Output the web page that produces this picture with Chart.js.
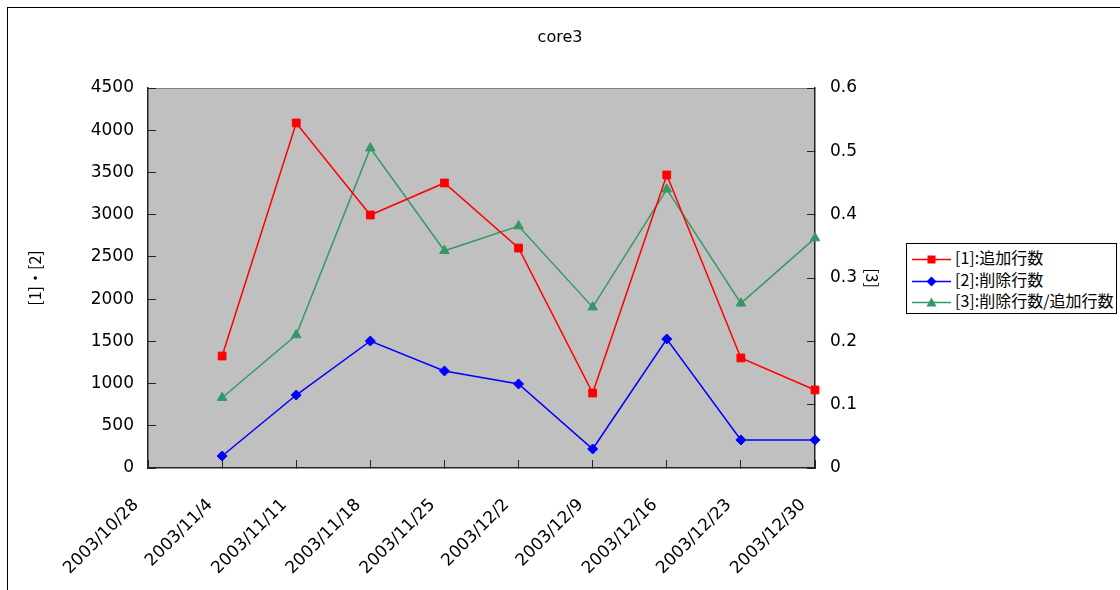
<!DOCTYPE html>
<html>
<head>
<meta charset="utf-8">
<script src="https://cdn.jsdelivr.net/npm/chart.js@4/dist/chart.umd.min.js"></script>
<style>
  body { margin: 0; background: #fff; overflow: hidden; }
  #wrap { position: relative; width: 1120px; height: 590px; }
  #frame { position: absolute; left: 7px; top: 7px; width: 1200px; height: 700px; border: 1px solid #000; }
  canvas { position: absolute; left: 0; top: 0; }
  #legend { position: absolute; left: 906px; top: 243px; width: 209px; height: 66px; border: 1px solid #000;
            background: #fff; padding-top: 3px; box-sizing: content-box; font-family: "Noto Sans CJK JP", sans-serif; font-size: 16px; }
  #legend div { height: 21.5px; line-height: 21.5px; white-space: nowrap; }
  #legend svg { vertical-align: middle; margin-left: 5px; margin-right: 4px; }
</style>
</head>
<body>
<div id="wrap">
  <div id="frame"></div>
  <canvas id="chart" width="1120" height="590"></canvas>
  <div id="legend"></div>
</div>
<script>
var labels = ["2003/10/28", "2003/11/4", "2003/11/11", "2003/11/18", "2003/11/25", "2003/12/2", "2003/12/9", "2003/12/16", "2003/12/23", "2003/12/30"];
var added = [null, 1326, 4086, 2996, 3375, 2605, 888, 3470, 1303, 924];
var deleted = [null, 142, 864, 1504, 1149, 995, 225, 1528, 332, 332];
var ratio = [null, 0.111, 0.21, 0.505, 0.343, 0.382, 0.254, 0.44, 0.26, 0.363];
var names = ["[1]:追加行数", "[2]:削除行数", "[3]:削除行数/追加行数"];

Chart.defaults.color = "#000";
Chart.defaults.font.family = "'DejaVu Sans', sans-serif";

// gray plot area like excel
var plotBg = {
  id: "plotBg",
  beforeDraw: function (chart) {
    var a = chart.chartArea, ctx = chart.ctx;
    ctx.save();
    ctx.fillStyle = "#C0C0C0";
    ctx.fillRect(a.left, a.top, a.right - a.left, a.bottom - a.top);
    ctx.strokeStyle = "#808080";
    ctx.lineWidth = 1;
    ctx.beginPath();
    ctx.moveTo(a.left, a.top + 0.5);
    ctx.lineTo(a.right, a.top + 0.5);
    ctx.stroke();
    ctx.restore();
  }
};

var tickGrid = { drawOnChartArea: false, tickLength: -8, color: "#222", lineWidth: 1 };
var axisBorder = { color: "#222", width: 1.5 };
var titleFont = { family: "'Noto Sans CJK JP', sans-serif", size: 16 };

new Chart(document.getElementById("chart"), {
  type: "line",
  data: {
    labels: labels,
    datasets: [
      {
        label: names[0], data: added, yAxisID: "y",
        borderColor: "#FF0000", backgroundColor: "#FF0000", borderWidth: 1.5,
        pointStyle: "rect", pointRadius: 5.5, pointBorderWidth: 1
      },
      {
        label: names[1], data: deleted, yAxisID: "y",
        borderColor: "#0000FF", backgroundColor: "#0000FF", borderWidth: 1.5,
        pointStyle: "rectRot", pointRadius: 5, pointBorderWidth: 1
      },
      {
        label: names[2], data: ratio, yAxisID: "y2",
        borderColor: "#339966", backgroundColor: "#339966", borderWidth: 1.5,
        pointStyle: "triangle", pointRadius: 5.5, pointBorderWidth: 1
      }
    ]
  },
  options: {
    responsive: false,
    animation: false,
    layout: { padding: 0 },
    plugins: {
      legend: { display: false },
      tooltip: { enabled: false },
      title: {
        display: true, text: "core3",
        font: { size: 16, weight: "normal" },
        padding: { top: 28.4, bottom: 40.4 }
      }
    },
    scales: {
      x: {
        offset: false,
        grid: tickGrid,
        border: axisBorder,
        ticks: { minRotation: 45, maxRotation: 45, autoSkip: false, padding: 35, labelOffset: -12, font: { size: 17 } },
        afterFit: function (s) { s.height = 122; }
      },
      y: {
        position: "left", min: 0, max: 4500,
        grid: tickGrid,
        border: axisBorder,
        ticks: { stepSize: 500, padding: 22, font: { size: 17 },
                 callback: function (v) { return String(v); } },
        title: { display: true, text: "[1]・[2]", font: titleFont, padding: { top: 25.4, bottom: 0 } },
        afterFit: function (s) { s.width = 148; }
      },
      y2: {
        position: "right", min: 0, max: 0.6,
        grid: tickGrid,
        border: axisBorder,
        ticks: { stepSize: 0.1, padding: 23, font: { size: 17 },
                 callback: function (v) { return String(+v.toFixed(1)); } },
        title: { display: true, text: "[3]", font: titleFont, padding: { top: 238.4, bottom: 0 } },
        afterFit: function (s) { s.width = 305; }
      }
    }
  },
  plugins: [plotBg]
});

// excel-like legend: line with marker
var shapes = [
  '<rect x="15.5" y="2.5" width="8" height="8" fill="#FF0000"/>',
  '<polygon points="19.5,1.5 24.5,6.5 19.5,11.5 14.5,6.5" fill="#0000FF"/>',
  '<polygon points="19.5,1.5 24.5,10.5 14.5,10.5" fill="#339966"/>'
];
var colors = ["#FF0000", "#0000FF", "#339966"];
var lg = document.getElementById("legend");
names.forEach(function (n, i) {
  var row = document.createElement("div");
  row.innerHTML = '<svg width="39" height="13"><line x1="0" y1="6.5" x2="39" y2="6.5" stroke="' + colors[i] +
    '" stroke-width="1.5"/>' + shapes[i] + '</svg>' + n;
  lg.appendChild(row);
});
</script>
</body>
</html>
